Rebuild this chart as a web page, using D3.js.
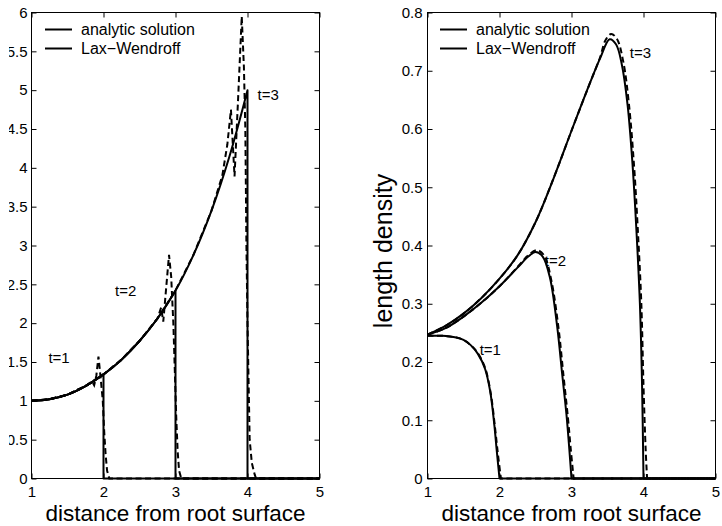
<!DOCTYPE html>
<html>
<head>
<meta charset="utf-8">
<script src="https://cdn.jsdelivr.net/npm/d3@7"></script>
<style>
  body { margin: 0; background: #fff; }
  svg { display: block; font-family: "Liberation Sans", Arial, Helvetica, sans-serif; }
  .frame { fill: none; stroke: #000; stroke-width: 1; }
  .axis path.domain { display: none; }
  .axis line { stroke: #000; stroke-width: 1; }
  .axis text { font-size: 15px; fill: #000; font-family: "Liberation Sans", Arial, sans-serif; }
  .axis-title { font-size: 22.5px; fill: #000; }
  .y-title { font-size: 25px; fill: #000; }
  .note { font-size: 15px; fill: #000; }
  .legend-text { font-size: 16px; fill: #000; }
  .exact { fill: none; stroke: #000; stroke-width: 2; stroke-linejoin: round; }
  .lw { fill: none; stroke: #000; stroke-width: 2; stroke-dasharray: 6,3.5; }
  .legend-line { stroke: #000; stroke-width: 2; }
</style>
</head>
<body>
<svg id="chart" width="722" height="526">
  <defs>
    <!-- the original figure was cropped at its left edge, cutting the y labels -->
    <clipPath id="crop-left"><rect x="9" y="0" width="713" height="526"></rect></clipPath>
  </defs>
</svg>
<script>
// ---- data ----
const xTicks = [1, 2, 3, 4, 5]
const leftYTicks = [0, 0.5, 1, 1.5, 2, 2.5, 3, 3.5, 4, 4.5, 5, 5.5, 6]
const rightYTicks = [0, 0.1, 0.2, 0.3, 0.4, 0.5, 0.6, 0.7, 0.8]
const legendLabels = ['analytic solution', 'Lax\u2212Wendroff']
const timeLabels = ['t=1', 't=2', 't=3']

// left panel: analytic solution (curve up to the front, then drop to 0)
const leftExactT1 = [[1, 1.0], [1.25, 1.02], [1.5, 1.08], [1.75, 1.19], [2, 1.34], [2, 0], [5, 0]]
const leftExactT2 = [[1, 1.0], [1.25, 1.02], [1.5, 1.08], [1.75, 1.19], [2, 1.34], [2.25, 1.53], [2.5, 1.77],
    [2.75, 2.06], [3, 2.42], [3, 0], [5, 0]]
const leftExactT3 = [[1, 1.0], [1.25, 1.02], [1.5, 1.08], [1.75, 1.19], [2, 1.34], [2.25, 1.53], [2.5, 1.77],
    [2.75, 2.06], [3, 2.42], [3.25, 2.88], [3.5, 3.45], [3.75, 4.15], [4, 5.0], [4, 0], [5, 0]]

// left panel: Lax-Wendroff (oscillates near the front)
const leftLwT1 = [[1, 1.0], [1.25, 1.02], [1.5, 1.08], [1.75, 1.19], [1.84, 1.25], [1.87, 1.2], [1.9, 1.32],
    [1.93, 1.57], [1.96, 1.3], [1.99, 1.0], [2.01, 0.6], [2.03, 0.3], [2.05, 0.1], [2.08, 0], [5, 0]]
const leftLwT2 = [[1, 1.0], [1.25, 1.02], [1.5, 1.08], [1.75, 1.19], [2, 1.34], [2.25, 1.53], [2.5, 1.77],
    [2.75, 2.06], [2.8, 2.2], [2.83, 2.02], [2.87, 2.45], [2.91, 2.88], [2.94, 2.6], [2.97, 2.0], [2.99, 1.4],
    [3.01, 0.8], [3.03, 0.35], [3.05, 0.1], [3.08, 0], [5, 0]]
const leftLwT3 = [[1, 1.0], [1.25, 1.02], [1.5, 1.08], [1.75, 1.19], [2, 1.34], [2.25, 1.53], [2.5, 1.77],
    [2.75, 2.06], [3, 2.42], [3.25, 2.88], [3.5, 3.45], [3.65, 3.9], [3.72, 4.3], [3.77, 4.75], [3.82, 3.89],
    [3.87, 4.9], [3.92, 5.95], [3.95, 5.3], [3.97, 4.5], [3.985, 3.0], [4.0, 2.0], [4.02, 1.0], [4.03, 0.5],
    [4.06, 0.2], [4.1, 0.05], [4.12, 0], [5, 0]]

// right panel: analytic solution
const rightExactT1 = [[1, 0.245], [1.2, 0.245], [1.4, 0.242], [1.5, 0.238], [1.6, 0.229], [1.7, 0.214],
    [1.8, 0.188], [1.87, 0.15], [1.93, 0.09], [1.96, 0.05], [2, 0], [5, 0]]
const rightExactT2 = [[1, 0.247], [1.25, 0.258], [1.5, 0.278], [1.75, 0.302], [2, 0.33], [2.25, 0.362],
    [2.4, 0.381], [2.5, 0.389], [2.6, 0.381], [2.7, 0.345], [2.8, 0.262], [2.87, 0.18], [2.93, 0.11],
    [2.97, 0.05], [3, 0], [5, 0]]
const rightExactT3 = [[1, 0.247], [1.25, 0.262], [1.5, 0.283], [1.75, 0.31], [2, 0.343], [2.25, 0.383],
    [2.5, 0.44], [2.75, 0.515], [3, 0.597], [3.25, 0.677], [3.4, 0.722], [3.53, 0.754], [3.62, 0.745],
    [3.7, 0.71], [3.78, 0.64], [3.85, 0.535], [3.9, 0.43], [3.95, 0.3], [3.98, 0.16], [4, 0], [5, 0]]

// right panel: Lax-Wendroff
const rightLwT1 = [[1, 0.245], [1.2, 0.245], [1.4, 0.242], [1.5, 0.238], [1.6, 0.229], [1.7, 0.215],
    [1.8, 0.19], [1.88, 0.145], [1.94, 0.085], [1.98, 0.04], [2.02, 0], [5, 0]]
const rightLwT2 = [[1, 0.247], [1.25, 0.258], [1.5, 0.278], [1.75, 0.302], [2, 0.33], [2.25, 0.363],
    [2.4, 0.383], [2.52, 0.392], [2.62, 0.383], [2.72, 0.34], [2.82, 0.258], [2.89, 0.175], [2.95, 0.105],
    [2.99, 0.05], [3.03, 0], [5, 0]]
const rightLwT3 = [[1, 0.247], [1.25, 0.262], [1.5, 0.283], [1.75, 0.31], [2, 0.343], [2.25, 0.383],
    [2.5, 0.44], [2.75, 0.515], [3, 0.597], [3.25, 0.677], [3.4, 0.724], [3.47, 0.752], [3.55, 0.763],
    [3.63, 0.755], [3.72, 0.715], [3.8, 0.64], [3.87, 0.535], [3.92, 0.43], [3.97, 0.3], [4.0, 0.16],
    [4.03, 0.05], [4.05, 0], [5, 0]]


class Panel {

    constructor(config, exact, lw) {
        this.config = config
        this.exact = exact
        this.lw = lw
        this.initVis()
        this.renderVis()
    }

    initVis() {
        let vis = this
        let c = vis.config

        vis.xScale = d3.scaleLinear().domain([1, 5]).range([0, c.width])
        vis.yScale = d3.scaleLinear().domain(c.yDomain).range([c.height, 0])

        vis.g = d3.select('#chart').append('g')
            .attr('clip-path', 'url(#crop-left)')
            .append('g')
            .attr('transform', `translate(${c.left},${c.top})`)

        // inward ticks on all four sides, matlab style
        vis.g.append('g').attr('class', 'axis')
            .attr('transform', `translate(0,${c.height})`)
            .call(d3.axisBottom(vis.xScale).tickValues(xTicks).tickSize(-5).tickPadding(8).tickFormat(d => String(d)))
        vis.g.append('g').attr('class', 'axis')
            .call(d3.axisTop(vis.xScale).tickValues(xTicks).tickSize(-5).tickFormat(''))
        vis.g.append('g').attr('class', 'axis')
            .call(d3.axisLeft(vis.yScale).tickValues(c.yTicks).tickSize(-5).tickPadding(c.yPad).tickFormat(d => String(d)))
        vis.g.append('g').attr('class', 'axis')
            .attr('transform', `translate(${c.width},0)`)
            .call(d3.axisRight(vis.yScale).tickValues(c.yTicks).tickSize(-5).tickFormat(''))

        vis.g.append('rect')
            .attr('class', 'frame')
            .attr('width', c.width)
            .attr('height', c.height)

        vis.g.append('text')
            .attr('class', 'axis-title')
            .attr('x', c.width / 2)
            .attr('y', c.height + 42)
            .style('text-anchor', 'middle')
            .text('distance from root surface')

        if (c.yTitle) {
            vis.g.append('text')
                .attr('class', 'y-title')
                .attr('transform', `translate(-35.5,${c.height / 2 + 5.5}) rotate(-90)`)
                .style('text-anchor', 'middle')
                .text(c.yTitle)
        }
    }

    pathFor(pts, smoothEnd) {
        let vis = this
        const straight = d3.line().x(d => vis.xScale(d[0])).y(d => vis.yScale(d[1]))
        if (smoothEnd < 1) return straight(pts)
        const smooth = d3.line().x(d => vis.xScale(d[0])).y(d => vis.yScale(d[1]))
            .curve(d3.curveCatmullRom.alpha(0.5))
        const rest = pts.slice(smoothEnd)
        return smooth(pts.slice(0, smoothEnd + 1)) + (rest.length > 1 ? straight(rest).replace(/^M/, 'L') : '')
    }

    renderVis() {
        let vis = this
        let c = vis.config

        vis.exact.forEach(pts => {
            vis.g.append('path')
                .attr('class', 'exact')
                .attr('d', vis.pathFor(pts, c.split(pts)))
        })
        vis.lw.forEach(pts => {
            vis.g.append('path')
                .attr('class', 'lw')
                .attr('d', vis.pathFor(pts, c.lwSmooth ? c.split(pts) : 0))
        })

        // legend (both entries drawn solid, as in the original)
        legendLabels.forEach((label, i) => {
            let y = c.legendY + i * 19
            vis.g.append('line')
                .attr('class', 'legend-line')
                .attr('x1', c.legendX).attr('x2', c.legendX + 27)
                .attr('y1', y).attr('y2', y)
            vis.g.append('text')
                .attr('class', 'legend-text')
                .attr('x', c.legendX + 36)
                .attr('y', y)
                .attr('dy', '0.35em')
                .text(label)
        })

        timeLabels.forEach((t, i) => {
            vis.g.append('text')
                .attr('class', 'note')
                .attr('x', vis.xScale(c.notes[i][0]))
                .attr('y', vis.yScale(c.notes[i][1]))
                .text(t)
        })
    }
}

const maxIndex = pts => d3.maxIndex(pts, d => d[1])
const firstZero = pts => pts.findIndex(d => d[1] === 0)

new Panel({
    left: 31.5, top: 12.5, width: 288, height: 466,
    yDomain: [0, 6], yTicks: leftYTicks, yPad: 4,
    legendX: 13.5, legendY: 17,
    split: maxIndex, lwSmooth: false,
    notes: [[1.235, 1.49], [2.16, 2.35], [4.14, 4.87]]
}, [leftExactT1, leftExactT2, leftExactT3], [leftLwT1, leftLwT2, leftLwT3])

new Panel({
    left: 427.5, top: 12.5, width: 288, height: 466,
    yDomain: [0, 0.8], yTicks: rightYTicks, yPad: 5,
    legendX: 12.5, legendY: 17,
    split: firstZero, lwSmooth: true, yTitle: 'length density',
    notes: [[1.725, 0.2125], [2.63, 0.364], [3.81, 0.722]]
}, [rightExactT1, rightExactT2, rightExactT3], [rightLwT1, rightLwT2, rightLwT3])
</script>
</body>
</html>
